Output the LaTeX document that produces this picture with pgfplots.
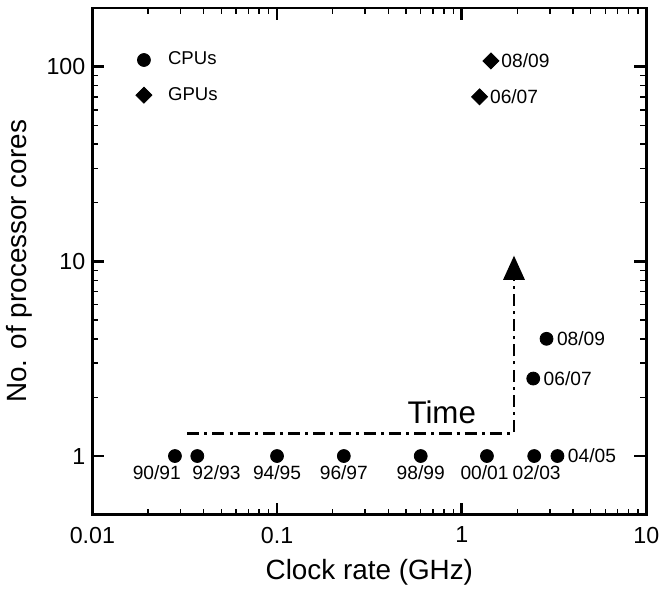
\documentclass[border=0pt]{standalone}
\usepackage{fontspec}
\setmainfont{Liberation Sans}
\usepackage{pgfplots}
\pgfplotsset{compat=1.18}
\usetikzlibrary{arrows.meta}

\begin{document}
\begin{tikzpicture}
\begin{axis}[
  scale only axis,
  width=274.5pt, height=251pt,
  xmode=log, ymode=log,
  xmin=0.01, xmax=10, ymin=0.5, ymax=200,
  xtick={0.01,0.1,1,10}, xticklabels={0.01,0.1,1,10},
  ytick={1,10,100}, yticklabels={1,10,100},
  tick align=inside,
  major tick length=6pt, minor tick length=3pt,
  axis line style={line width=1.3pt},
  every major tick/.style={line width=1.3pt, black},
  every minor tick/.style={line width=0.7pt, black},
  xlabel={Clock rate (GHz)}, ylabel={No. of processor cores},
  label style={font=\fontsize{13.8}{16}\selectfont},
  xticklabel style={yshift=-2.5pt},
  xlabel style={yshift=-1pt},
  tick label style={font=\fontsize{11.5}{13}\selectfont},
  legend style={draw=none, fill=none, at={(0.067,0.93)}, anchor=north west,
    font=\fontsize{9.2}{11}\selectfont, row sep=5.5pt,
    /tikz/every odd column/.append style={column sep=6pt}},
  legend cell align=left,
  clip=false,
]
% CPUs
\addplot[only marks, mark=*, mark size=3.2pt, black] coordinates {
  (0.028,1) (0.037,1) (0.1,1) (0.23,1) (0.6,1) (1.37,1) (2.47,1) (3.3,1)
  (2.44,2.5) (2.88,4)};
\addlegendentry{CPUs}
% GPUs
\addplot[only marks, mark=square*, mark size=2.8pt, mark options={rotate=45}, black] coordinates {
  (1.25,70) (1.44,107)};
\addlegendentry{GPUs}

% time arrow
\addplot[line width=1.3pt, dash pattern=on 6pt off 2.5pt on 1.5pt off 2.5pt,
  -{Triangle[length=12pt,width=10.5pt]}, forget plot] coordinates {
  (0.0326,1.31) (1.92,1.31) (1.92,10.7)};
\node[font=\fontsize{15.5}{18}\selectfont] at (axis cs:0.78,1.68) {Time};

% point labels
\begin{scope}[every node/.style={font=\fontsize{9.5}{11}\selectfont, inner sep=0pt}]
\node[yshift=-8pt, xshift=-9pt] at (axis cs:0.028,1) {90/91};
\node[yshift=-8pt, xshift=9.5pt] at (axis cs:0.037,1) {92/93};
\node[yshift=-8pt] at (axis cs:0.1,1) {94/95};
\node[yshift=-8pt] at (axis cs:0.23,1) {96/97};
\node[yshift=-8pt] at (axis cs:0.6,1) {98/99};
\node[yshift=-8pt, xshift=-1.2pt] at (axis cs:1.37,1) {00/01};
\node[yshift=-8pt, xshift=1.2pt] at (axis cs:2.47,1) {02/03};
\node[anchor=west, xshift=5pt] at (axis cs:3.3,1) {04/05};
\node[anchor=west, xshift=5pt] at (axis cs:2.44,2.5) {06/07};
\node[anchor=west, xshift=5pt] at (axis cs:2.88,4) {08/09};
\node[anchor=west, xshift=5pt] at (axis cs:1.25,70) {06/07};
\node[anchor=west, xshift=5pt] at (axis cs:1.44,107) {08/09};
\end{scope}
\end{axis}
\path ([yshift=4pt]current axis.north);
\end{tikzpicture}
\end{document}
